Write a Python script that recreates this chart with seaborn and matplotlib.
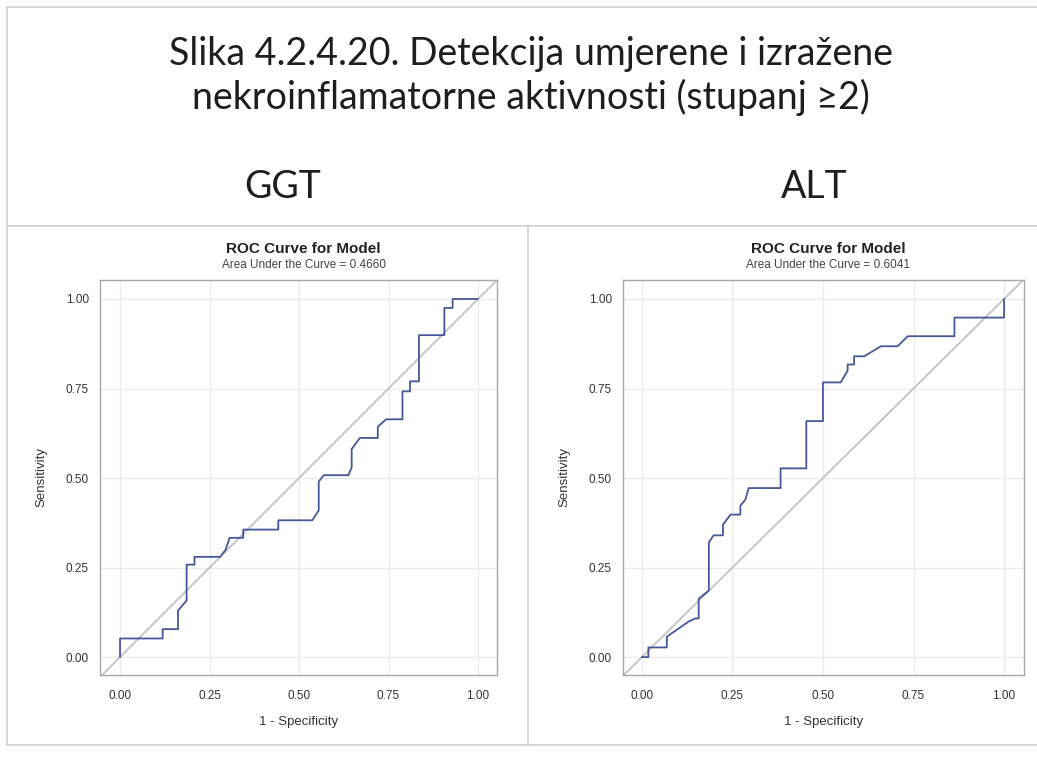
import matplotlib
matplotlib.use("Agg")
import matplotlib.pyplot as plt
from matplotlib.lines import Line2D
import pandas as pd
import seaborn as sns

# ROC points (1 - specificity, sensitivity)
ggt_fpr = [0.0, 0.0, 0.119, 0.119, 0.162, 0.162, 0.186, 0.186, 0.208, 0.208, 0.28, 0.295,
           0.306, 0.306, 0.344, 0.344, 0.442, 0.442, 0.537, 0.555, 0.555, 0.569, 0.638,
           0.647, 0.647, 0.67, 0.72, 0.72, 0.743, 0.789, 0.789, 0.81, 0.81, 0.835, 0.835,
           0.906, 0.906, 0.929, 0.929, 1.0]
ggt_tpr = [0.0, 0.052, 0.052, 0.078, 0.078, 0.13, 0.158, 0.258, 0.258, 0.28, 0.28, 0.30,
           0.333, 0.333, 0.333, 0.356, 0.356, 0.382, 0.382, 0.41, 0.49, 0.508, 0.508,
           0.53, 0.581, 0.612, 0.612, 0.643, 0.664, 0.664, 0.742, 0.742, 0.77, 0.77,
           0.899, 0.899, 0.975, 0.975, 1.0, 1.0]

alt_fpr = [0.0, 0.018, 0.018, 0.069, 0.069, 0.129, 0.148, 0.157, 0.157, 0.185, 0.185,
           0.198, 0.224, 0.224, 0.245, 0.272, 0.272, 0.286, 0.295, 0.383, 0.383, 0.454,
           0.454, 0.5, 0.5, 0.549, 0.568, 0.568, 0.586, 0.586, 0.614, 0.66, 0.706, 0.734,
           0.863, 0.863, 1.0, 1.0]
alt_tpr = [0.0, 0.0, 0.027, 0.027, 0.057, 0.099, 0.108, 0.108, 0.163, 0.186, 0.32,
           0.34, 0.34, 0.37, 0.398, 0.398, 0.423, 0.44, 0.472, 0.472, 0.527, 0.527,
           0.659, 0.659, 0.767, 0.767, 0.80, 0.817, 0.817, 0.84, 0.84, 0.868, 0.868, 0.896,
           0.896, 0.948, 0.948, 1.0]

panels = [("GGT", "0.4660", ggt_fpr, ggt_tpr), ("ALT", "0.6041", alt_fpr, alt_tpr)]
ticks = [0.0, 0.25, 0.5, 0.75, 1.0]
tick_labels = ["0.00", "0.25", "0.50", "0.75", "1.00"]

sns.set_style("white")
plt.rcParams["font.family"] = ["Liberation Sans", "DejaVu Sans"]

fig = plt.figure(figsize=(10.37, 7.83), dpi=100)
W, H = 1037, 783

def fx(px):
    return px / W

def fy(py):
    return 1 - py / H

# page frame lines
grey = "#cfcfcf"
for (x0, y0, x1, y1) in [(7, 7, 1037, 7), (7, 7, 7, 745), (7, 226, 1037, 226),
                         (7, 745, 1037, 745), (528, 226, 528, 745)]:
    fig.add_artist(Line2D([fx(x0), fx(x1)], [fy(y0), fy(y1)], color=grey, lw=1.2))

head_font = ["Lato", "DejaVu Sans"]
fig.text(fx(531), fy(65), "Slika 4.2.4.20. Detekcija umjerene i izražene",
         ha="center", va="baseline", fontsize=27, family=head_font, color="#1e1e1e")
fig.text(fx(531), fy(109), "nekroinflamatorne aktivnosti (stupanj \u22652)",
         ha="center", va="baseline", fontsize=27, family=head_font, color="#1e1e1e")

axes_px = [(100, 497, -0.056, 1.053), (623, 1024, -0.052, 1.055)]
heading_x = [283, 814]

for (name, auc, fpr, tpr), (l, r, x0, x1), hx in zip(panels, axes_px, heading_x):
    fig.text(fx(hx), fy(198), name, ha="center", va="baseline", fontsize=27,
             family=head_font, color="#1e1e1e")

    ax = fig.add_axes([fx(l), fy(675), (r - l) / W, (675 - 280) / H])
    df = pd.DataFrame({"fpr": fpr, "tpr": tpr})
    ax.axline((0, 0), (1, 1), color="#c2c2c2", lw=1.3, zorder=2)
    sns.lineplot(data=df, x="fpr", y="tpr", sort=False, estimator=None,
                 color="#45589a", lw=1.3, ax=ax, zorder=3)
    ax.set_xlim(x0, x1)
    ax.set_ylim(-0.05, 1.053)
    ax.set_xticks(ticks)
    ax.set_xticklabels(tick_labels)
    ax.set_yticks(ticks)
    ax.set_yticklabels(tick_labels)
    ax.tick_params(axis="x", labelsize=8.5, colors="#333333", length=0, pad=11)
    ax.tick_params(axis="y", labelsize=8.5, colors="#333333", length=0, pad=8)
    ax.grid(True, color="#ebebeb", lw=1)
    for s in ax.spines.values():
        s.set_color("#a8a8a8")
        s.set_linewidth(1)
    ax.set_xlabel("1 - Specificity", fontsize=9.5, color="#333333", labelpad=10)
    ax.set_ylabel("Sensitivity", fontsize=9.5, color="#333333", labelpad=13)
    cx = fx((l + r) / 2 + 5)
    fig.text(cx, fy(253), "ROC Curve for Model", ha="center", va="baseline",
             fontsize=11, fontweight="bold", color="#222222")
    fig.text(cx, fy(268), f"Area Under the Curve = {auc}", ha="center", va="baseline",
             fontsize=8.5, color="#444444")

fig.savefig("out.png", dpi=100)
